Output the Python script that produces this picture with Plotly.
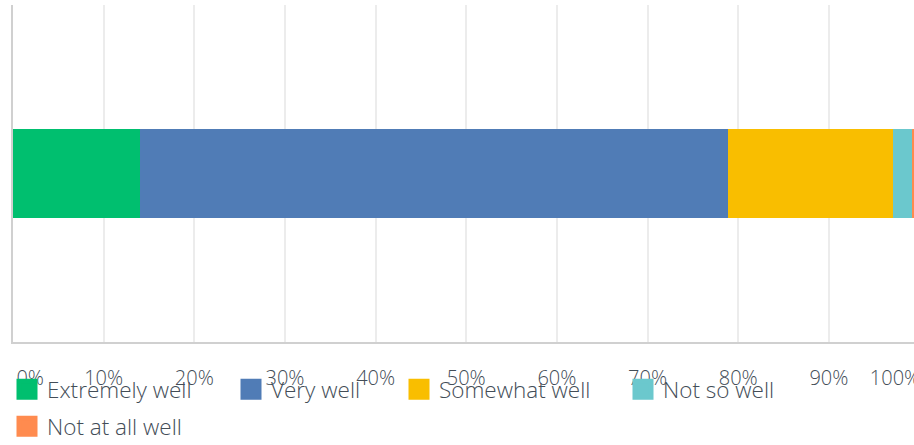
import plotly.graph_objects as go

categories = ["Extremely well", "Very well", "Somewhat well", "Not so well", "Not at all well"]
values = [14.0, 64.9, 18.2, 2.1, 0.8]
colors = ["#00BF6F", "#507CB6", "#F9BE00", "#6BC8CD", "#FF8B4F"]
question = ["Q1"]

tick_text = ["0%", "10%", "20%", "30%", "40%", "50%", "60%", "70%", "80%", "90%", "100%"]
# label anchor positions (first/last labels are pulled inside the chart edges)
tick_label_pos = [1.9, 10, 20, 30, 40, 50, 60, 70, 80, 90, 97.3]
grid_vals = [10, 20, 30, 40, 50, 60, 70, 80, 90]

W, H = 914, 445
FONT = "Open Sans"
TEXT_COLOR = "#434d57"

# legend symbol centres (px) for each entry
legend_centers = [(26, 389), (250, 389), (418, 389), (642, 389), (26, 426)]

fig = go.Figure()
for cat, val, col in zip(categories, values, colors):
    fig.add_trace(go.Bar(
        x=[val], y=question, orientation="h", name=cat,
        marker=dict(color=col, line=dict(width=0)),
        showlegend=False, hoverinfo="x+name",
    ))

for i, (cat, col) in enumerate(zip(categories, colors)):
    lg = "legend" if i == 0 else f"legend{i+1}"
    fig.add_trace(go.Scatter(
        x=[None], y=[None], mode="markers", name=cat,
        marker=dict(symbol="square", size=16, color=col, line=dict(width=5, color=col)),
        showlegend=True, legend=lg,
    ))

layout_legends = {}
for i, (cx, cy) in enumerate(legend_centers):
    lg = "legend" if i == 0 else f"legend{i+1}"
    layout_legends[lg] = dict(
        xref="container", yref="container",
        x=(cx - 19) / W, y=1 - (cy - 21) / H,
        xanchor="left", yanchor="top",
        orientation="h",
        font=dict(family=FONT, size=22.5, color=TEXT_COLOR, weight=300),
        bgcolor="rgba(0,0,0,0)", borderwidth=0,
        itemclick=False, itemdoubleclick=False,
    )

fig.update_layout(
    width=W, height=H,
    margin=dict(l=13, r=0, t=5, b=103, autoexpand=False),
    paper_bgcolor="white", plot_bgcolor="white",
    barmode="stack", bargap=0.733,
    showlegend=True,
    xaxis=dict(
        range=[0, 99.39], fixedrange=True, automargin=False,
        tickmode="array", tickvals=tick_label_pos, ticktext=tick_text,
        ticklabeloverflow="allow",
        showgrid=False, zeroline=False,
        ticks="outside", ticklen=17, tickcolor="rgba(0,0,0,0)",
        tickfont=dict(family=FONT, size=20, color=TEXT_COLOR, weight=300),
        showline=True, linecolor="#d0d0d0", linewidth=2,
        minor=dict(tickmode="array", tickvals=grid_vals, showgrid=True,
                   gridcolor="#ececec", gridwidth=2, ticks=""),
    ),
    yaxis=dict(
        range=[-0.5, 0.5], fixedrange=True, automargin=False,
        showticklabels=False, showgrid=False, zeroline=False,
        showline=True, linecolor="#d0d0d0", linewidth=2,
    ),
    **layout_legends,
)

fig.write_html(
    "out.html",
    config={"displayModeBar": False},
    post_script="document.body.style.margin='0';document.body.style.overflow='hidden';",
)
